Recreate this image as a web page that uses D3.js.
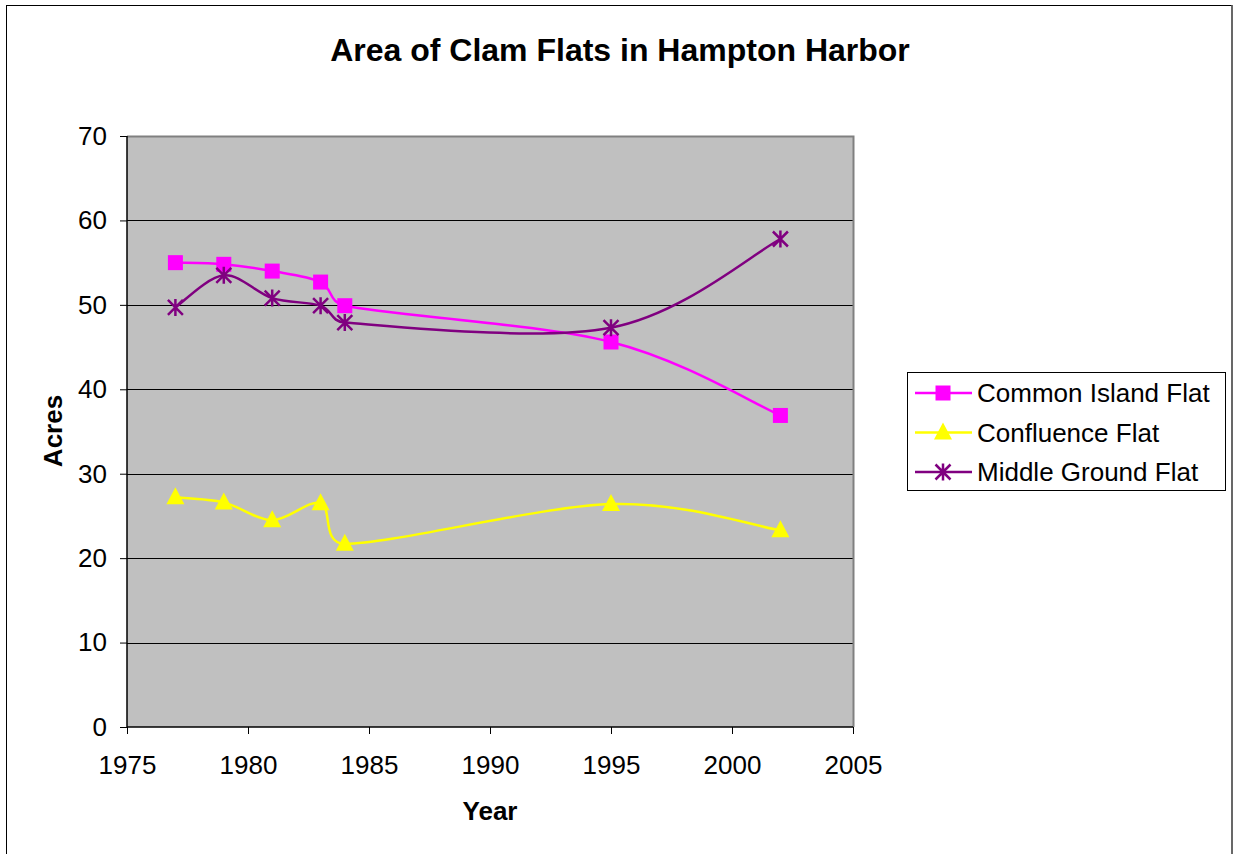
<!DOCTYPE html>
<html><head><meta charset="utf-8">
<script src="https://cdn.jsdelivr.net/npm/d3@7"></script>
<style>body{margin:0;background:#fff}svg{display:block}text{font-family:"Liberation Sans",Arial,sans-serif}</style>
</head><body><svg id="c" width="1233" height="854"></svg>
<script>
const years = [1977, 1979, 1981, 1983, 1984, 1995, 2002];
const commonIsland = [55.0, 54.8, 54.0, 52.7, 49.9, 45.6, 36.9];
const confluence = [27.2, 26.6, 24.5, 26.5, 21.7, 26.4, 23.3];
const middleGround = [49.7, 53.5, 50.8, 49.9, 47.9, 47.3, 57.8];
const seriesNames = ["Common Island Flat", "Confluence Flat", "Middle Ground Flat"];
const xTicks = [1975, 1980, 1985, 1990, 1995, 2000, 2005];
const yTicks = [0, 10, 20, 30, 40, 50, 60, 70];

const svg = d3.select("#c");
const L = 127, R = 853, T = 136, B = 727;
const x = d3.scaleLinear().domain([1975, 2005]).range([L, R]);
const y = d3.scaleLinear().domain([0, 70]).range([B, T]);
const FONT = '"Liberation Sans",Arial,sans-serif';

svg.append("rect").attr("x", 6.5).attr("y", 5.5).attr("width", 1225.5).attr("height", 870)
  .attr("fill", "#fff").attr("stroke", "#000").attr("stroke-width", 1);
svg.append("line").attr("x1",1232).attr("x2",1232).attr("y1",5).attr("y2",854).attr("stroke","#606060").attr("stroke-width",1.5);

svg.append("rect").attr("x", L).attr("y", T).attr("width", R - L).attr("height", B - T).attr("fill", "#C0C0C0");
svg.append("g").selectAll("line").data(yTicks.filter(d => d > 0 && d < 70)).join("line")
  .attr("x1", L).attr("x2", R).attr("y1", d => Math.round(y(d)) + 0.5).attr("y2", d => Math.round(y(d)) + 0.5)
  .attr("stroke", "#000").attr("stroke-width", 1);
svg.append("path").attr("d", `M${L},${T+0.5}H${R+0.5}V${B}`).attr("fill", "none").attr("stroke", "#808080").attr("stroke-width", 2);

const yAxis = d3.axisLeft(y).tickValues(yTicks).tickSize(7).tickPadding(13).tickFormat(d3.format("d"));
const gy = svg.append("g").attr("transform", `translate(${L},0)`).call(yAxis);
const xAxis = d3.axisBottom(x).tickValues(xTicks).tickSize(7).tickPadding(22).tickFormat(d3.format("d"));
const gx = svg.append("g").attr("transform", `translate(0,${B})`).call(xAxis);
[gx, gy].forEach(g => {
  g.attr("font-size", 26).attr("font-family", FONT);
  g.selectAll("path.domain").attr("stroke", "#000").attr("stroke-width", 1.5);
  g.selectAll(".tick line").attr("stroke", "#000").attr("stroke-width", 1);
  g.selectAll("text").attr("font-size", 26).attr("fill", "#000").attr("font-family", FONT);
});
gy.select("path.domain").attr("d", `M-0,${T}V${B}`);
gx.select("path.domain").attr("d", `M${L},0H${R}`);

svg.append("text").attr("x", 620).attr("y", 61).attr("text-anchor", "middle").attr("font-size", 32).attr("font-weight", "bold").text("Area of Clam Flats in Hampton Harbor");
svg.append("text").attr("x", 490).attr("y", 820).attr("text-anchor", "middle").attr("font-size", 26).attr("font-weight", "bold").text("Year");
svg.append("text").attr("transform", "translate(62,431) rotate(-90)").attr("text-anchor", "middle").attr("font-size", 26).attr("font-weight", "bold").text("Acres");

const colors = ["#FF00FF", "#FFFF00", "#800080"];
const data = [commonIsland, confluence, middleGround];

// Excel-style smoothed line: Catmull-Rom tangents (1/6), arm capped at half the segment length
function smoothPath(pts) {
  const p = d3.path();
  const n = pts.length;
  const P = i => pts[Math.max(0, Math.min(n - 1, i))];
  p.moveTo(pts[0][0], pts[0][1]);
  for (let i = 0; i < n - 1; i++) {
    const p0 = P(i - 1), p1 = P(i), p2 = P(i + 1), p3 = P(i + 2);
    const seg = Math.hypot(p2[0] - p1[0], p2[1] - p1[1]);
    let t1 = [p2[0] - p0[0], p2[1] - p0[1]], t2 = [p3[0] - p1[0], p3[1] - p1[1]];
    const l1 = Math.hypot(t1[0], t1[1]), l2 = Math.hypot(t2[0], t2[1]);
    const a1 = Math.min(l1 / 6, seg / 2), a2 = Math.min(l2 / 6, seg / 2);
    const c1 = l1 ? [p1[0] + t1[0] / l1 * a1, p1[1] + t1[1] / l1 * a1] : p1;
    const c2 = l2 ? [p2[0] - t2[0] / l2 * a2, p2[1] - t2[1] / l2 * a2] : p2;
    p.bezierCurveTo(c1[0], c1[1], c2[0], c2[1], p2[0], p2[1]);
  }
  return p.toString();
}

function marker(g, type, cx, cy, color) {
  if (type === 0) {
    g.append("rect").attr("x", cx - 7.5).attr("y", cy - 7.5).attr("width", 15).attr("height", 15).attr("fill", color);
  } else if (type === 1) {
    g.append("path").attr("d", `M${cx},${cy-10}L${cx+9},${cy+7}L${cx-9},${cy+7}Z`).attr("fill", color);
  } else {
    const s = 7.5;
    g.append("path").attr("d", `M${cx-s},${cy-s}L${cx+s},${cy+s}M${cx-s},${cy+s}L${cx+s},${cy-s}M${cx},${cy-s-1}V${cy+s+1}`)
      .attr("stroke", color).attr("stroke-width", 2.5).attr("fill", "none");
  }
}

data.forEach((vals, i) => {
  const pts = years.map((yr, j) => [x(yr), y(vals[j])]);
  svg.append("path").attr("d", smoothPath(pts)).attr("fill", "none").attr("stroke", colors[i]).attr("stroke-width", 2.5);
});
data.forEach((vals, i) => {
  const g = svg.append("g");
  years.forEach((yr, j) => marker(g, i, x(yr), y(vals[j]), colors[i]));
});

const lg = svg.append("g");
lg.append("rect").attr("x", 907.5).attr("y", 372.5).attr("width", 318).attr("height", 118).attr("fill", "#fff").attr("stroke", "#000").attr("stroke-width", 1);
seriesNames.forEach((n, i) => {
  const cy = 393 + i * 39.5;
  lg.append("line").attr("x1", 915).attr("x2", 972).attr("y1", cy).attr("y2", cy).attr("stroke", colors[i]).attr("stroke-width", 2.5);
  marker(lg, i, 943, cy, colors[i]);
  lg.append("text").attr("x", 977).attr("y", cy + 9).attr("font-size", 26).text(n);
});
</script></body></html>
